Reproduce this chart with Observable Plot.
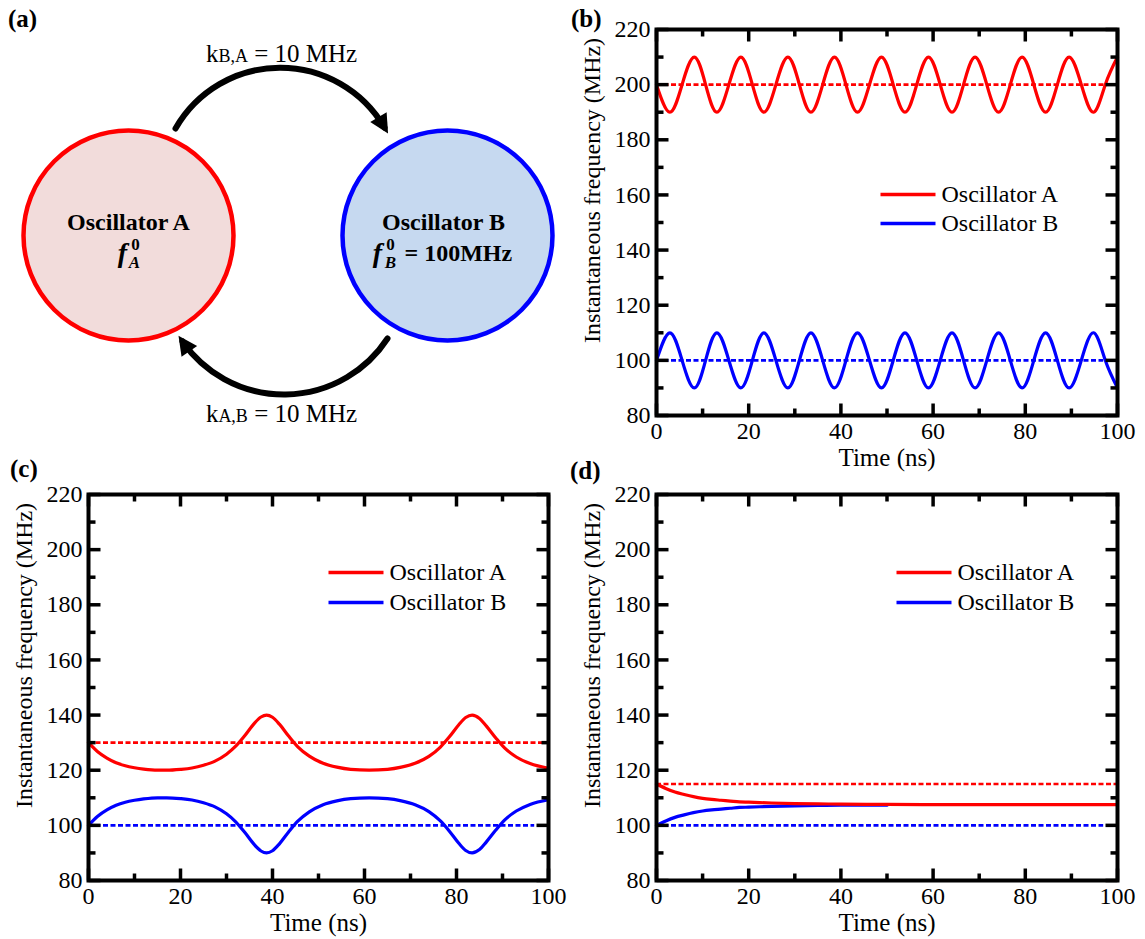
<!DOCTYPE html>
<html><head><meta charset="utf-8">
<script src="https://cdn.jsdelivr.net/npm/d3@7"></script>
<script src="https://cdn.jsdelivr.net/npm/@observablehq/plot@0.6"></script>
<style>
body{margin:0;background:#fff;}
#fig{position:relative;width:1145px;height:939px;background:#fff;font-family:"Liberation Serif",serif;overflow:hidden;}
.panel{position:absolute;}
.tag{position:absolute;font-weight:bold;font-size:25px;line-height:1;color:#000;font-family:"Liberation Serif",serif;}
</style></head><body><div id="fig"></div>
<script>
// ---------------- DATA ----------------
const xMajor = [0, 20, 40, 60, 80, 100];
const xMinor = [10, 30, 50, 70, 90];
const yMajor = [80, 100, 120, 140, 160, 180, 200, 220];
const yMinor = [90, 110, 130, 150, 170, 190, 210];
const seriesNames = ["Oscillator A", "Oscillator B"];
const seriesColors = ["#ff0000", "#0000ff"];
const xLabel = "Time (ns)";
const yLabel = "Instantaneous frequency (MHz)";
const refEnd = [100, 97]; // free-running reference lines extent (ns)

// panel (b): strong detuning, no locking
const bTime = [0, 2.9, 5.55, 8.2, 10.65, 13.1, 15.7, 18.3, 20.8, 23.3, 25.9, 28.5, 31.0, 33.5, 36.05, 38.6, 41.1, 43.6, 46.2, 48.8, 51.35, 53.9, 56.45, 59.0, 61.55, 64.1, 66.6, 69.1, 71.65, 74.2, 76.75, 79.3, 81.85, 84.4, 86.95, 89.5, 92.15, 94.8, 97.35, 100];
const bFreqA = [200, 190, 200, 210, 200, 190, 200, 210, 200, 190, 200, 210, 200, 190, 200, 210, 200, 190, 200, 210, 200, 190, 200, 210, 200, 190, 200, 210, 200, 190, 200, 210, 200, 190, 200, 210, 200, 190, 200, 210];
const bFreqB = [100, 110, 100, 90, 100, 110, 100, 90, 100, 110, 100, 90, 100, 110, 100, 90, 100, 110, 100, 90, 100, 110, 100, 90, 100, 110, 100, 90, 100, 110, 100, 90, 100, 110, 100, 90, 100, 110, 100, 90];
const bBase = [200, 100];

// panel (c): phase slipping
const cTime = [0, 2, 4, 6, 8, 10, 12, 15, 17, 20, 22.5, 25, 27.5, 30, 32, 34, 36, 37.5, 38.7, 40, 41.5, 43.5, 45.5, 48, 51, 54, 57, 61, 65, 68, 71, 74, 76.5, 78.5, 80.5, 82, 83.4, 85, 86.5, 88.5, 90.5, 93, 96, 100];
const cFreqA = [130, 126.7, 124.4, 122.7, 121.6, 120.9, 120.4, 120.0, 120.0, 120.3, 120.8, 121.8, 123.3, 125.8, 128.7, 132.6, 136.9, 139.3, 140, 139.2, 136.7, 132.4, 128.5, 125.1, 122.5, 121.1, 120.3, 120, 120.3, 121.1, 122.5, 125.0, 128.4, 132.2, 136.5, 139.1, 140, 138.8, 136.0, 131.8, 128.0, 124.8, 122.4, 120.7];
const cFreqB = [100, 103.3, 105.6, 107.3, 108.4, 109.1, 109.6, 110, 110, 109.7, 109.2, 108.2, 106.7, 104.2, 101.3, 97.4, 93.1, 90.7, 90, 90.8, 93.3, 97.6, 101.5, 104.9, 107.5, 108.9, 109.7, 110, 109.7, 108.9, 107.5, 105.0, 101.6, 97.8, 93.5, 90.9, 90, 91.2, 94.0, 98.2, 102.0, 105.2, 107.6, 109.3];
const cBase = [130, 100];

// panel (d): locking
const dTimeA = [0, 2, 4, 6, 8, 10, 12, 14, 16, 18, 20, 25, 30, 35, 40, 50, 60, 70, 80, 90, 100];
const dFreqA = [115, 113.4, 112.1, 111.2, 110.4, 109.8, 109.4, 109.1, 108.8, 108.5, 108.4, 108.1, 107.9, 107.8, 107.7, 107.6, 107.5, 107.5, 107.5, 107.5, 107.5];
const dTimeB = [0, 2, 4, 6, 8, 10, 12, 14, 16, 18, 20, 25, 30, 35, 40, 50];
const dFreqB = [100, 101.6, 102.9, 103.8, 104.6, 105.2, 105.6, 105.9, 106.2, 106.5, 106.6, 106.9, 107.1, 107.2, 107.3, 107.3];
const dBase = [115, 100];

// panel (a): diagram
const oscNames = ["Oscillator A", "Oscillator B"];
const oscSymbols = ["A", "B"];
const oscFill = ["#f2dcdb", "#c6d9f0"];
const oscStroke = ["#ff0000", "#0000ff"];
const couplingLabels = ["kB,A = 10 MHz", "kA,B = 10 MHz"];
const freqBText = "= 100MHz";

// ---------------- LAYOUT ----------------
const FONT = "Liberation Serif, serif";
const fig = document.getElementById("fig");
const tickShape = {draw(ctx, l) { ctx.moveTo(0, 0); ctx.lineTo(0, -l); }};

function fixFonts(svg, baseSize) {
  const s = d3.select(svg);
  s.attr("font-family", FONT);
  if (baseSize) s.attr("font-size", baseSize);
  s.style("background", "transparent").style("overflow", "visible");
  return svg;
}
function place(el, left, top) {
  const w = document.createElement("div");
  w.className = "panel"; w.style.left = left + "px"; w.style.top = top + "px";
  w.appendChild(el); fig.appendChild(w);
}
function tag(txt, left, top) {
  const d = document.createElement("div");
  d.className = "tag"; d.textContent = txt; d.style.left = left + "px"; d.style.top = top + "px";
  fig.appendChild(d);
}

function chart(cfg) {
  const rowsA = cfg.timeA.map((t, i) => ({t, f: cfg.freqA[i], s: seriesNames[0]}));
  const rowsB = cfg.timeB.map((t, i) => ({t, f: cfg.freqB[i], s: seriesNames[1]}));
  const baseRows = seriesNames.map((s, i) => ({s, f: cfg.base[i], end: refEnd[i]}));
  const tickOpts = {shape: tickShape, anchor: "start", stroke: "black", strokeWidth: 3.5, strokeLinecap: "butt"};
  const legend = seriesNames.flatMap((name, i) => [
    Plot.vector([name], {frameAnchor: "top-left", dx: cfg.legDx, dy: cfg.legDy + i * cfg.legGap, rotate: 90, length: 55, ...tickOpts, stroke: seriesColors[i], strokeWidth: 3.5}),
    Plot.text([name], {frameAnchor: "top-left", dx: cfg.legDx + 61, dy: cfg.legDy + i * cfg.legGap, text: d => d, textAnchor: "start", lineAnchor: "middle", fontSize: 24})
  ]);
  const svg = Plot.plot({
    width: cfg.width, height: cfg.height,
    marginLeft: cfg.ml, marginRight: cfg.mr, marginTop: cfg.mt, marginBottom: cfg.mb,
    x: {domain: [0, 100]},
    y: {domain: [80, 220]},
    color: {domain: seriesNames, range: seriesColors},
    marks: [
      Plot.line(rowsB, {x: "t", y: "f", stroke: "s", strokeWidth: 3.2, curve: cfg.curve}),
      Plot.line(rowsA, {x: "t", y: "f", stroke: "s", strokeWidth: 3.2, curve: cfg.curve}),
      Plot.ruleY(baseRows, {y: "f", x1: 0, x2: "end", stroke: "s", strokeWidth: 2.6, strokeDasharray: "5,2.5"}),
      Plot.vector(xMajor, {x: d => d, frameAnchor: "bottom", rotate: 0, length: 12, ...tickOpts}),
      Plot.vector(xMinor, {x: d => d, frameAnchor: "bottom", rotate: 0, length: 7, ...tickOpts}),
      Plot.vector(xMajor, {x: d => d, frameAnchor: "top", rotate: 180, length: 12, ...tickOpts}),
      Plot.vector(xMinor, {x: d => d, frameAnchor: "top", rotate: 180, length: 7, ...tickOpts}),
      Plot.vector(yMajor, {y: d => d, frameAnchor: "left", rotate: 90, length: 12, ...tickOpts}),
      Plot.vector(yMinor, {y: d => d, frameAnchor: "left", rotate: 90, length: 7, ...tickOpts}),
      Plot.vector(yMajor, {y: d => d, frameAnchor: "right", rotate: -90, length: 12, ...tickOpts}),
      Plot.vector(yMinor, {y: d => d, frameAnchor: "right", rotate: -90, length: 7, ...tickOpts}),
      Plot.axisX(xMajor, {anchor: "bottom", tickSize: 0, tickPadding: 6, label: null, fontSize: 24}),
      Plot.axisY(yMajor, {anchor: "left", tickSize: 0, tickPadding: 6, label: null, fontSize: 24}),
      Plot.text([xLabel], {frameAnchor: "bottom", dy: 42, text: d => d, lineAnchor: "middle", fontSize: 25}),
      Plot.text([yLabel], {frameAnchor: "left", dx: -64, dy: -32, rotate: -90, text: d => d, textAnchor: "middle", lineAnchor: "middle", fontSize: 24}),
      ...legend,
      Plot.frame({stroke: "black", strokeWidth: 4})
    ]
  });
  return fixFonts(svg, 24);
}

// panel (b)
place(chart({timeA: bTime, freqA: bFreqA, timeB: bTime, freqB: bFreqB, base: bBase, curve: "natural",
  width: 575, height: 470, ml: 86, mr: 28, mt: 29, mb: 55, legDx: 224, legDy: 165, legGap: 29}), 570, 0);
// panel (c)
place(chart({timeA: cTime, freqA: cFreqA, timeB: cTime, freqB: cFreqB, base: cBase, curve: "monotone-x",
  width: 570, height: 499, ml: 88, mr: 22, mt: 54, mb: 59, legDx: 240, legDy: 78, legGap: 30}), 0, 440);
// panel (d)
place(chart({timeA: dTimeA, freqA: dFreqA, timeB: dTimeB, freqB: dFreqB, base: dBase, curve: "monotone-x",
  width: 575, height: 469, ml: 86, mr: 28, mt: 24, mb: 59, legDx: 240, legDy: 78, legGap: 30}), 570, 470);

// panel (a): coupling diagram
const nodePos = [{x: 128, y: 235}, {x: 447, y: 235}];
const arrowPos = [
  {x1: 175, y1: 128, x2: 384, y2: 127, bend: 60, lx: 281, ly: 53},
  {x1: 387, y1: 338, x2: 182, y2: 341, bend: 56, lx: 281, ly: 413}
];
const diagMarks = [];
oscNames.forEach((name, i) => {
  const p = nodePos[i];
  diagMarks.push(Plot.dot([name], {x: () => p.x, y: () => p.y, r: 105, fill: oscFill[i], stroke: oscStroke[i], strokeWidth: 4.5}));
  diagMarks.push(Plot.text([name], {x: () => p.x + (i ? -4 : 0), y: () => p.y - 13, text: d => d, fontWeight: "bold", fontSize: 24, lineAnchor: "middle"}));
});
// f^0_A
diagMarks.push(Plot.text(["f"], {x: () => nodePos[0].x - 6, y: () => nodePos[0].y + 18, text: d => d, fontWeight: "bold", fontStyle: "italic", fontSize: 28, lineAnchor: "middle"}));
diagMarks.push(Plot.text(["0"], {x: () => nodePos[0].x + 7, y: () => nodePos[0].y + 9, text: d => d, fontWeight: "bold", fontSize: 17, lineAnchor: "middle"}));
diagMarks.push(Plot.text([oscSymbols[0]], {x: () => nodePos[0].x + 6, y: () => nodePos[0].y + 27, text: d => d, fontWeight: "bold", fontStyle: "italic", fontSize: 17, lineAnchor: "middle"}));
// f^0_B = 100MHz
diagMarks.push(Plot.text(["f"], {x: () => nodePos[1].x - 70, y: () => nodePos[1].y + 18, text: d => d, fontWeight: "bold", fontStyle: "italic", fontSize: 28, lineAnchor: "middle"}));
diagMarks.push(Plot.text(["0"], {x: () => nodePos[1].x - 57, y: () => nodePos[1].y + 9, text: d => d, fontWeight: "bold", fontSize: 17, lineAnchor: "middle"}));
diagMarks.push(Plot.text([oscSymbols[1]], {x: () => nodePos[1].x - 57, y: () => nodePos[1].y + 27, text: d => d, fontWeight: "bold", fontStyle: "italic", fontSize: 17, lineAnchor: "middle"}));
diagMarks.push(Plot.text([freqBText], {x: () => nodePos[1].x - 43, y: () => nodePos[1].y + 18, text: d => d, fontWeight: "bold", fontSize: 24, textAnchor: "start", lineAnchor: "middle"}));
couplingLabels.forEach((lab, i) => {
  const a = arrowPos[i];
  diagMarks.push(Plot.arrow([lab], {x1: () => a.x1, y1: () => a.y1, x2: () => a.x2, y2: () => a.y2, bend: a.bend, stroke: "black", strokeWidth: 6, headLength: 9, headAngle: 70}));
  diagMarks.push(Plot.text([lab], {x: () => a.lx, y: () => a.ly, text: d => d, fontSize: 25, lineAnchor: "middle"}));
});
const diag = Plot.plot({
  width: 570, height: 440, margin: 0,
  x: {domain: [0, 570], range: [0, 570], axis: null},
  y: {domain: [0, 440], range: [0, 440], axis: null},
  marks: diagMarks
});
fixFonts(diag, 24);
// small-size letter pair after "k"
d3.select(diag).selectAll("text").each(function() {
  const m = /^k([AB],[AB])(.*)$/.exec(this.textContent);
  if (!m) return;
  const t = d3.select(this);
  t.text(null);
  t.append("tspan").text("k");
  t.append("tspan").attr("font-size", 18).text(m[1]);
  t.append("tspan").text(m[2]);
});
// turn the arrow heads into filled triangles (following the library's own head direction)
d3.select(diag).selectAll("path").each(function() {
  const d = this.getAttribute("d") || "";
  const parts = d.split("M");
  if (parts.length !== 3 || parts[2].split("L").length !== 3) return;
  const pts = parts[2].split("L").map(p => p.split(",").map(Number));
  const [w1, tip, w2] = pts;
  const mx = (w1[0] + w2[0]) / 2, my = (w1[1] + w2[1]) / 2;
  let ux = tip[0] - mx, uy = tip[1] - my; const L = Math.hypot(ux, uy) || 1; ux /= L; uy /= L;
  const nx = -uy, ny = ux;
  const px = tip[0] + ux * 7, py = tip[1] + uy * 7;
  const bx = px - ux * 19, by = py - uy * 19;
  this.setAttribute("d", "M" + parts[1]);
  const g = this.parentNode;
  const head = document.createElementNS("http://www.w3.org/2000/svg", "path");
  head.setAttribute("d", `M${px},${py}L${bx + nx * 9.5},${by + ny * 9.5}L${bx - nx * 9.5},${by - ny * 9.5}Z`);
  head.setAttribute("fill", "black");
  head.setAttribute("stroke", "none");
  g.appendChild(head);
});
place(diag, 0, 0);

tag("(a)", 8, 6);
tag("(b)", 571, 6);
tag("(c)", 10, 456);
tag("(d)", 570, 458);
</script>
</body></html>
